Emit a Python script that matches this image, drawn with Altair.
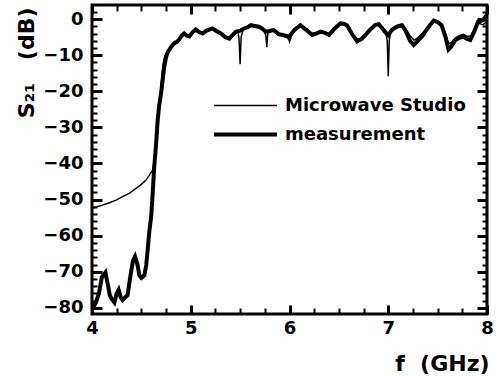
import altair as alt
import pandas as pd

# ---- data ----
meas_f = [4.00, 4.015, 4.04, 4.07, 4.10, 4.136, 4.16, 4.18, 4.20, 4.227, 4.25, 4.27, 4.29, 4.31,
          4.34, 4.36, 4.39, 4.415, 4.436, 4.46, 4.48, 4.50, 4.53, 4.55, 4.565, 4.58, 4.60, 4.615,
          4.63, 4.648, 4.665, 4.68, 4.70, 4.715, 4.73, 4.75, 4.77, 4.80, 4.833, 4.86, 4.884, 4.91,
          4.934, 4.96, 4.985, 5.02, 5.05, 5.08, 5.12, 5.16, 5.22, 5.26, 5.305, 5.35, 5.39, 5.42,
          5.456, 5.50, 5.54, 5.58, 5.61, 5.65, 5.69, 5.73, 5.76, 5.80, 5.84, 5.89, 5.93, 5.995,
          6.05, 6.11, 6.17, 6.23, 6.27, 6.315, 6.36, 6.40, 6.46, 6.517, 6.55, 6.584, 6.63, 6.685,
          6.73, 6.77, 6.82, 6.87, 6.904, 6.94, 6.97, 7.00, 7.03, 7.056, 7.10, 7.14, 7.18, 7.22,
          7.258, 7.30, 7.34, 7.40, 7.46, 7.50, 7.54, 7.58, 7.61, 7.64, 7.68, 7.72, 7.76, 7.80,
          7.83, 7.87, 7.91, 7.96, 8.00]
meas_db = [-80.5, -79.7, -78.5, -76, -71.5, -70.2, -73.5, -76.5, -77.5, -78.5, -76, -75, -77, -77.8,
           -77, -76.5, -71, -67, -65.8, -68, -71, -71.7, -71, -68, -63.5, -59, -54.5, -48,
           -41, -35, -28, -24, -20.5, -17, -13.5, -10.5, -9, -7.8, -6.7, -6.3, -5.6, -4.6,
           -4, -4.6, -4.8, -3.6, -2.9, -3.5, -4, -3.2, -2.6, -3.3, -4, -5, -5.4, -4.5,
           -3.5, -3.2, -2.6, -2.2, -1.7, -1.9, -2.1, -2.8, -3.5, -3.3, -3, -4.2, -4.4, -4.9,
           -3, -1.7, -3, -4.4, -4, -3.5, -3.8, -4.4, -2.5, -1.2, -1.3, -1.8, -4, -6.2,
           -5.5, -4.4, -2.8, -1.6, -1.4, -2.6, -3.6, -4.5, -3.2, -2.6, -2, -1.7, -3.5, -6,
           -7.2, -6, -4.9, -2.5, -0.4, -0.8, -1.7, -5, -8.4, -7.5, -5.8, -5.2, -4.9, -5.5,
           -5.8, -3.5, -0.7, -0.3, 1.2]

sim_f = [4.00, 4.05, 4.10, 4.177, 4.25, 4.31, 4.38, 4.446, 4.50, 4.547, 4.58, 4.614, 4.635, 4.65,
         4.665, 4.68, 4.695, 4.71, 4.72, 4.735, 4.75, 4.78, 4.81, 4.84, 4.87, 4.90, 4.93, 4.96,
         4.99, 5.03, 5.06, 5.10, 5.14, 5.19, 5.23, 5.28, 5.32, 5.37, 5.41, 5.45, 5.48, 5.49,
         5.50, 5.51, 5.53, 5.57, 5.61, 5.66, 5.70, 5.74, 5.76, 5.77, 5.78, 5.81, 5.85, 5.90,
         5.95, 5.99, 6.00, 6.02, 6.06, 6.11, 6.17, 6.22, 6.27, 6.31, 6.36, 6.41, 6.46, 6.51,
         6.56, 6.60, 6.65, 6.69, 6.73, 6.78, 6.83, 6.88, 6.93, 6.97, 6.99, 7.00, 7.01, 7.03,
         7.08, 7.13, 7.18, 7.22, 7.26, 7.30, 7.35, 7.40, 7.45, 7.50, 7.55, 7.58, 7.61, 7.64,
         7.68, 7.72, 7.76, 7.80, 7.84, 7.88, 7.92, 7.96, 8.00]
sim_db = [-52.4, -52, -51.6, -50.9, -50.1, -49.2, -48.2, -46.9, -45.8, -44.6, -43.3, -41.8, -39.5, -36.5,
          -31, -25, -19.5, -15, -12.5, -10.5, -9.5, -8.3, -7.2, -6.5, -6, -5, -4.2, -4.3,
          -4.5, -3.4, -3, -3.8, -3.7, -2.8, -2.7, -3.6, -4.4, -5, -4.8, -3.8, -3.5, -6,
          -12.5, -5, -3, -2.3, -1.9, -2.2, -2.4, -3, -4.5, -7.8, -4, -3.2, -3.2, -4,
          -4.3, -5.5, -6.3, -4.5, -2.8, -1.9, -2.9, -4, -3.8, -3.3, -3.6, -4.1, -2.7, -1.4,
          -1.5, -2.4, -4.6, -5.7, -5.2, -4, -2.5, -1.4, -2.2, -3.2, -6, -15.8, -6, -2.8,
          -1.8, -1.4, -2.8, -4.6, -5.8, -5.2, -3.8, -2.2, -0.8, -1, -2.4, -4, -6.8, -6.5,
          -5.2, -4.6, -4.2, -4.8, -4.6, -2.8, -1.2, -1.6, -0.6]

series_names = ["Microwave Studio", "measurement"]
x_major = [4, 5, 6, 7, 8]
x_minor = [4.25, 4.5, 4.75, 5.25, 5.5, 5.75, 6.25, 6.5, 6.75, 7.25, 7.5, 7.75]
y_major = [0, -10, -20, -30, -40, -50, -60, -70, -80]
y_minor = [2, -2, -4, -6, -8, -12, -14, -16, -18, -22, -24, -26, -28, -32, -34, -36, -38,
           -42, -44, -46, -48, -52, -54, -56, -58, -62, -64, -66, -68, -72, -74, -76, -78]

df = pd.concat([
    pd.DataFrame({"f": meas_f, "s21": meas_db, "series": series_names[1]}),
    pd.DataFrame({"f": sim_f, "s21": sim_db, "series": series_names[0]}),
], ignore_index=True)

FONT = "DejaVu Sans"
W, H = 395, 309
xs = alt.Scale(domain=[4, 8], nice=False, zero=False)
ys = alt.Scale(domain=[-81.7, 3.9], nice=False, zero=False)

# inward ticks: negative tick length given as an expression
X_TICK, Y_TICK = 9, 10

x_axis = alt.Axis(
    orient="bottom", values=x_major, format="d", domain=False, grid=False,
    ticks=True, tickSize={"expr": str(-X_TICK)}, tickWidth=3, tickColor="black",
    labelPadding=5 + X_TICK, labelFlush=False, labelOverlap=False,
    title="f\u00a0\u00a0(GHz)", titleAlign="right", titleX=W + 2, titleY=56,
    titleBaseline="alphabetic", titleFontSize=22)
y_axis = alt.Axis(
    orient="left", values=y_major, format="d", domain=False, grid=False,
    ticks=True, tickSize={"expr": str(-Y_TICK)}, tickWidth=3, tickColor="black",
    labelPadding=9 + Y_TICK, labelFlush=False, labelOverlap=False,
    title="S₂₁\u00a0\u00a0\u00a0(dB)", titleAngle=270, titleAlign="right", titleX=-66, titleY=2,
    titleBaseline="middle", titleFontSize=22)

lines = alt.Chart(df).mark_line(color="black", clip=True).encode(
    x=alt.X("f:Q", scale=xs, axis=x_axis),
    y=alt.Y("s21:Q", scale=ys, axis=y_axis),
    strokeWidth=alt.StrokeWidth("series:N", scale=alt.Scale(domain=series_names, range=[1.5, 4]),
                                legend=alt.Legend(
                                    orient="none", legendX=162, legendY=89, title=None,
                                    symbolType="M-5,0H1", symbolSize=441,
                                    symbolStrokeColor="black", labelOffset=6, labelLimit=400,
                                    labelFont=FONT, labelFontWeight="bold", labelFontSize=18,
                                    labelColor="black", rowPadding=7, padding=0)),
)


def tick_layer(orient_x, orient_y, xv, yv, xlen, ylen, tw):
    return alt.Chart(df).mark_point(opacity=0, size=1).encode(
        x=alt.X("f:Q", scale=xs, axis=alt.Axis(
            orient=orient_x, values=xv, labels=False, domain=False, grid=False, title=None,
            ticks=True, tickSize={"expr": str(-xlen)}, tickWidth=tw, tickColor="black")),
        y=alt.Y("s21:Q", scale=ys, axis=alt.Axis(
            orient=orient_y, values=yv, labels=False, domain=False, grid=False, title=None,
            ticks=True, tickSize={"expr": str(-ylen)}, tickWidth=tw, tickColor="black")),
    )


chart = alt.layer(
    lines,
    tick_layer("bottom", "left", x_minor, y_minor, 6, 5, 2),
    tick_layer("top", "right", x_major, y_major, X_TICK, Y_TICK, 3),
    tick_layer("top", "right", x_minor, y_minor, 6, 5, 2),
).resolve_axis(x="independent", y="independent").properties(
    width=W, height=H,
    autosize=alt.AutoSizeParams(type="none"),
    padding={"left": 92, "top": 5, "right": 10, "bottom": 64},
).configure_view(stroke="black", strokeWidth=3).configure_axis(
    labelFont=FONT, labelFontWeight="bold", labelFontSize=18, labelColor="black",
    titleFont=FONT, titleFontWeight="bold", titleColor="black",
)

chart.save("out.html", embed_options={"renderer": "svg", "actions": False})
